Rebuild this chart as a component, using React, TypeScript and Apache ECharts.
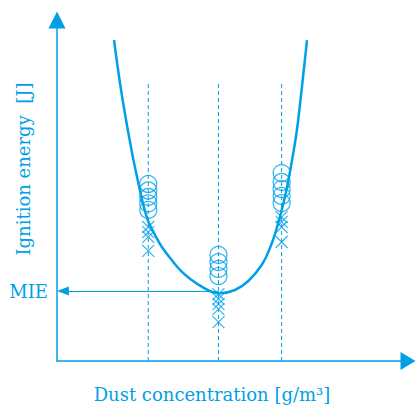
import React, { useEffect, useRef } from "react";
import * as echarts from "echarts";

const COLOR = "#00a0e9";
const FONT = "DejaVu Serif";

// concentrations where tests were run (x axis units 0..100)
const concentrations = [26, 46, 64];
const dashedTop = 82;

// fitted ignition-energy curve [concentration, energy]
const curveX = [
  16.24, 18.52, 21.28, 23.08, 24.64, 26.01, 27.92, 29.83, 32.68, 35.53, 38.38, 41.23, 44.07, 46.44,
  50.71, 54.5, 58.32, 60.68, 62.54, 64.02, 65.38, 66.67, 68.23, 69.37, 71.23,
];
const curveY = [
  94.13, 77.71, 61.58, 52.64, 45.6, 40.91, 36.95, 33.52, 29.62, 26.19, 23.75, 21.79, 20.32, 19.85,
  20.82, 23.46, 28.15, 33.14, 38.71, 44.28, 50.15, 57.18, 66.86, 76.54, 94.13,
];

// ignition observed (circles) and no ignition (crosses) per concentration
const ignitionLeft = [51.9, 50.0, 48.1, 46.2, 44.3];
const ignitionMid = [31.1, 29.0, 27.0, 24.9];
const ignitionRight = [55.1, 52.5, 50.4, 48.4, 46.3];
const noIgnLeft = [39.3, 37.8, 36.4, 32.3];
const noIgnMid = [19.6, 18.2, 16.7, 15.2, 11.4];
const noIgnRight = [42.2, 40.8, 39.3, 34.9];

const MIE = 20.5;
const arrowEndX = 1.7;

export default function App() {
  const ref = useRef<HTMLDivElement>(null);
  useEffect(() => {
    const chart = echarts.init(ref.current!, undefined, { renderer: "svg" });
    const circles = [
      ...ignitionLeft.map((v) => [concentrations[0], v]),
      ...ignitionMid.map((v) => [concentrations[1], v]),
      ...ignitionRight.map((v) => [concentrations[2], v]),
    ];
    const crosses = [
      ...noIgnLeft.map((v) => [concentrations[0], v]),
      ...noIgnMid.map((v) => [concentrations[1], v]),
      ...noIgnRight.map((v) => [concentrations[2], v]),
    ];
    const dashed = concentrations.map((c) => ({
      type: "line",
      data: [[c, 0], [c, dashedTop]],
      symbol: "none",
      silent: true,
      lineStyle: { color: COLOR, width: 1, type: [4, 3] },
      z: 1,
    }));
    chart.setOption({
      animation: false,
      grid: { left: 57, right: 9, top: 20, bottom: 44 },
      xAxis: {
        type: "value",
        min: 0,
        max: 100,
        axisLine: {
          show: true,
          lineStyle: { color: COLOR, width: 1.5 },
          symbol: ["none", "triangle"],
          symbolSize: [18, 15],
        },
        axisTick: { show: false },
        axisLabel: { show: false },
        splitLine: { show: false },
      },
      yAxis: {
        type: "value",
        min: 0,
        max: 100,
        axisLine: {
          show: true,
          lineStyle: { color: COLOR, width: 1.5 },
          symbol: ["none", "triangle"],
          symbolSize: [17, 17],
        },
        axisTick: { show: false },
        axisLabel: { show: false },
        splitLine: { show: false },
      },
      graphic: [
        {
          type: "text",
          x: 23,
          y: 169,
          rotation: Math.PI / 2,
          style: {
            text: "Ignition energy\u00a0\u00a0[J]",
            fill: COLOR,
            font: `18px "${FONT}"`,
            textAlign: "center",
            textVerticalAlign: "middle",
          },
        },
        {
          type: "text",
          x: 212,
          y: 394,
          style: {
            text: "Dust concentration [g/m³]",
            fill: COLOR,
            font: `18px "${FONT}"`,
            textAlign: "center",
            textVerticalAlign: "middle",
          },
        },
      ],
      series: [
        ...dashed,
        {
          type: "scatter",
          data: circles,
          symbol: "circle",
          symbolSize: 17,
          itemStyle: { color: "rgba(0,0,0,0)", borderColor: COLOR, borderWidth: 1.2 },
          z: 2,
        },
        {
          type: "scatter",
          data: crosses,
          symbol: "path://M0 0L10 10M10 0L0 10",
          symbolSize: 12,
          itemStyle: { color: "rgba(0,0,0,0)", borderColor: COLOR, borderWidth: 1.2 },
          z: 2,
        },
        {
          type: "line",
          data: curveX.map((x, i) => [x, curveY[i]]),
          smooth: 0.4,
          symbol: "none",
          lineStyle: { color: COLOR, width: 2.5 },
          z: 3,
          markLine: {
            silent: true,
            symbol: ["none", "triangle"],
            symbolSize: [9, 12],
            lineStyle: { color: COLOR, width: 1.2, type: "solid" },
            label: {
              show: true,
              position: "end",
              formatter: "MIE",
              distance: 15,
              color: COLOR,
              fontFamily: FONT,
              fontSize: 18,
            },
            data: [[{ coord: [concentrations[1], MIE] }, { coord: [arrowEndX, MIE] }]],
          },
        },
      ],
    });
    return () => chart.dispose();
  }, []);
  return (
    <div
      ref={ref}
      style={{ position: "fixed", left: 0, top: 0, width: 417, height: 405, background: "#fff" }}
    />
  );
}
